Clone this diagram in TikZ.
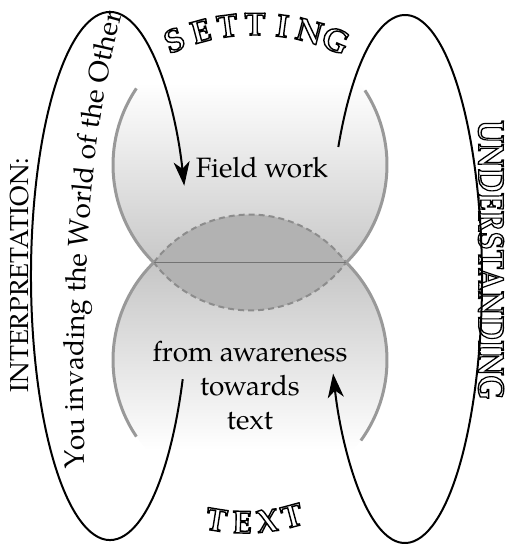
\documentclass[tikz,border=0pt]{standalone}
\usepackage{fontspec}
\setmainfont{texgyrepagella}[Extension=.otf, UprightFont=*-regular, BoldFont=*-bold, ItalicFont=*-italic, BoldItalicFont=*-bolditalic]
\usetikzlibrary{arrows.meta, calc, decorations.text}
\newcommand\hollow[1]{\special{pdf:literal direct 1 Tr 0.7 w}#1\special{pdf:literal direct 0 Tr}}

\begin{document}
\begin{tikzpicture}[x=0.5pt, y=0.5pt, >={Stealth[length=12pt, width=8pt, inset=3.5pt]},
  loop/.style={line width=1pt, black},
  rim/.style={line width=1.5pt, black!40},
  main/.style={font=\fontsize{14}{17}\selectfont},
  deco/.style={font=\fontsize{16}{16}\selectfont\bfseries, anchor=base, inner sep=0pt}]
  \useasboundingbox (0,0) rectangle (508,545);
  % centros
  \coordinate (Cu) at (250,380);  \coordinate (Cd) at (250,185);
  \coordinate (PL) at (153.8,282.5); \coordinate (PR) at (346.2,282.5);
  \coordinate (Lc) at (110,269);  \coordinate (Rc) at (405,266);
  \coordinate (Sc) at (255,310);  \coordinate (Tc) at (245,205);
  % sombreado de los dos circulos
  \begin{scope}
    \clip (Cu) circle (137) (Cd) circle (137);
    \shade[top color=white, bottom color=white, middle color=black!22] (100,95) rectangle (400,462);
  \end{scope}
  % lente central
  \fill[black!30] (PL) arc[start angle=143, end angle=37, radius=120.4]
    arc[start angle=-37, end angle=-143, radius=120.4] -- cycle;
  \draw[black!45, line width=1pt, dash pattern=on 3pt off 2pt] (PL) arc[start angle=143, end angle=37, radius=120.4]
    arc[start angle=-37, end angle=-143, radius=120.4];
  \draw[black!55, line width=0.3pt] (PL) -- (PR);
  % bordes grises
  \draw[rim] (Cu) ++(146:137) arc[start angle=146, end angle=225.4, radius=137];
  \draw[rim] (Cu) ++(33:137) arc[start angle=33, end angle=-45.4, radius=137];
  \draw[rim] (Cd) ++(134.6:137) arc[start angle=134.6, end angle=214, radius=137];
  \draw[rim] (Cd) ++(45.4:137) arc[start angle=45.4, end angle=-36, radius=137];
  % lazos
  \draw[loop, ->] (Lc) ++(-23:79 and 264) arc[start angle=-23, end angle=-340, x radius=79, y radius=264];
  \draw[loop, ->] (Rc) ++(150:77 and 264) arc[start angle=150, end angle=-159, x radius=77, y radius=264];
  \path[decorate, decoration={text along path, text align=left,
      text={|\fontsize{14}{14}\selectfont|You invading the World of the Other}}]
    (85,76) .. controls (81,232) and (86,405) .. (124,538);
  % textos
  \node[main, anchor=base] (field) at (262,367) {Field work};
  \node[main, align=center] (aware) at (250,159) {from awareness\\towards\\text};
  \node[font=\fontsize{13}{13}\selectfont, rotate=90] (interp) at (20,270) {INTERPRETATION:};
  \node[deco, font=\fontsize{18}{18}\selectfont\bfseries, anchor=center, rotate=-90] (und) at (491,285)
    {\scalebox{0.82}[1]{\hollow{UNDERSTANDING}}};
  \foreach \c/\a [count=\i] in {S/112.5, E/105, T/97.5, T/90, I/82.5, N/75, G/67.5}
    \node[deco, rotate=\a-90] (set\i) at ($(Sc)+(\a:200)$) {\hollow{\c}};
  \foreach \c/\a [count=\i] in {T/261, E/269, X/277, T/285}
    \node[deco, rotate=\a+90] (txt\i) at ($(Tc)+(\a:193)$) {\hollow{\c}};
\end{tikzpicture}
\end{document}
